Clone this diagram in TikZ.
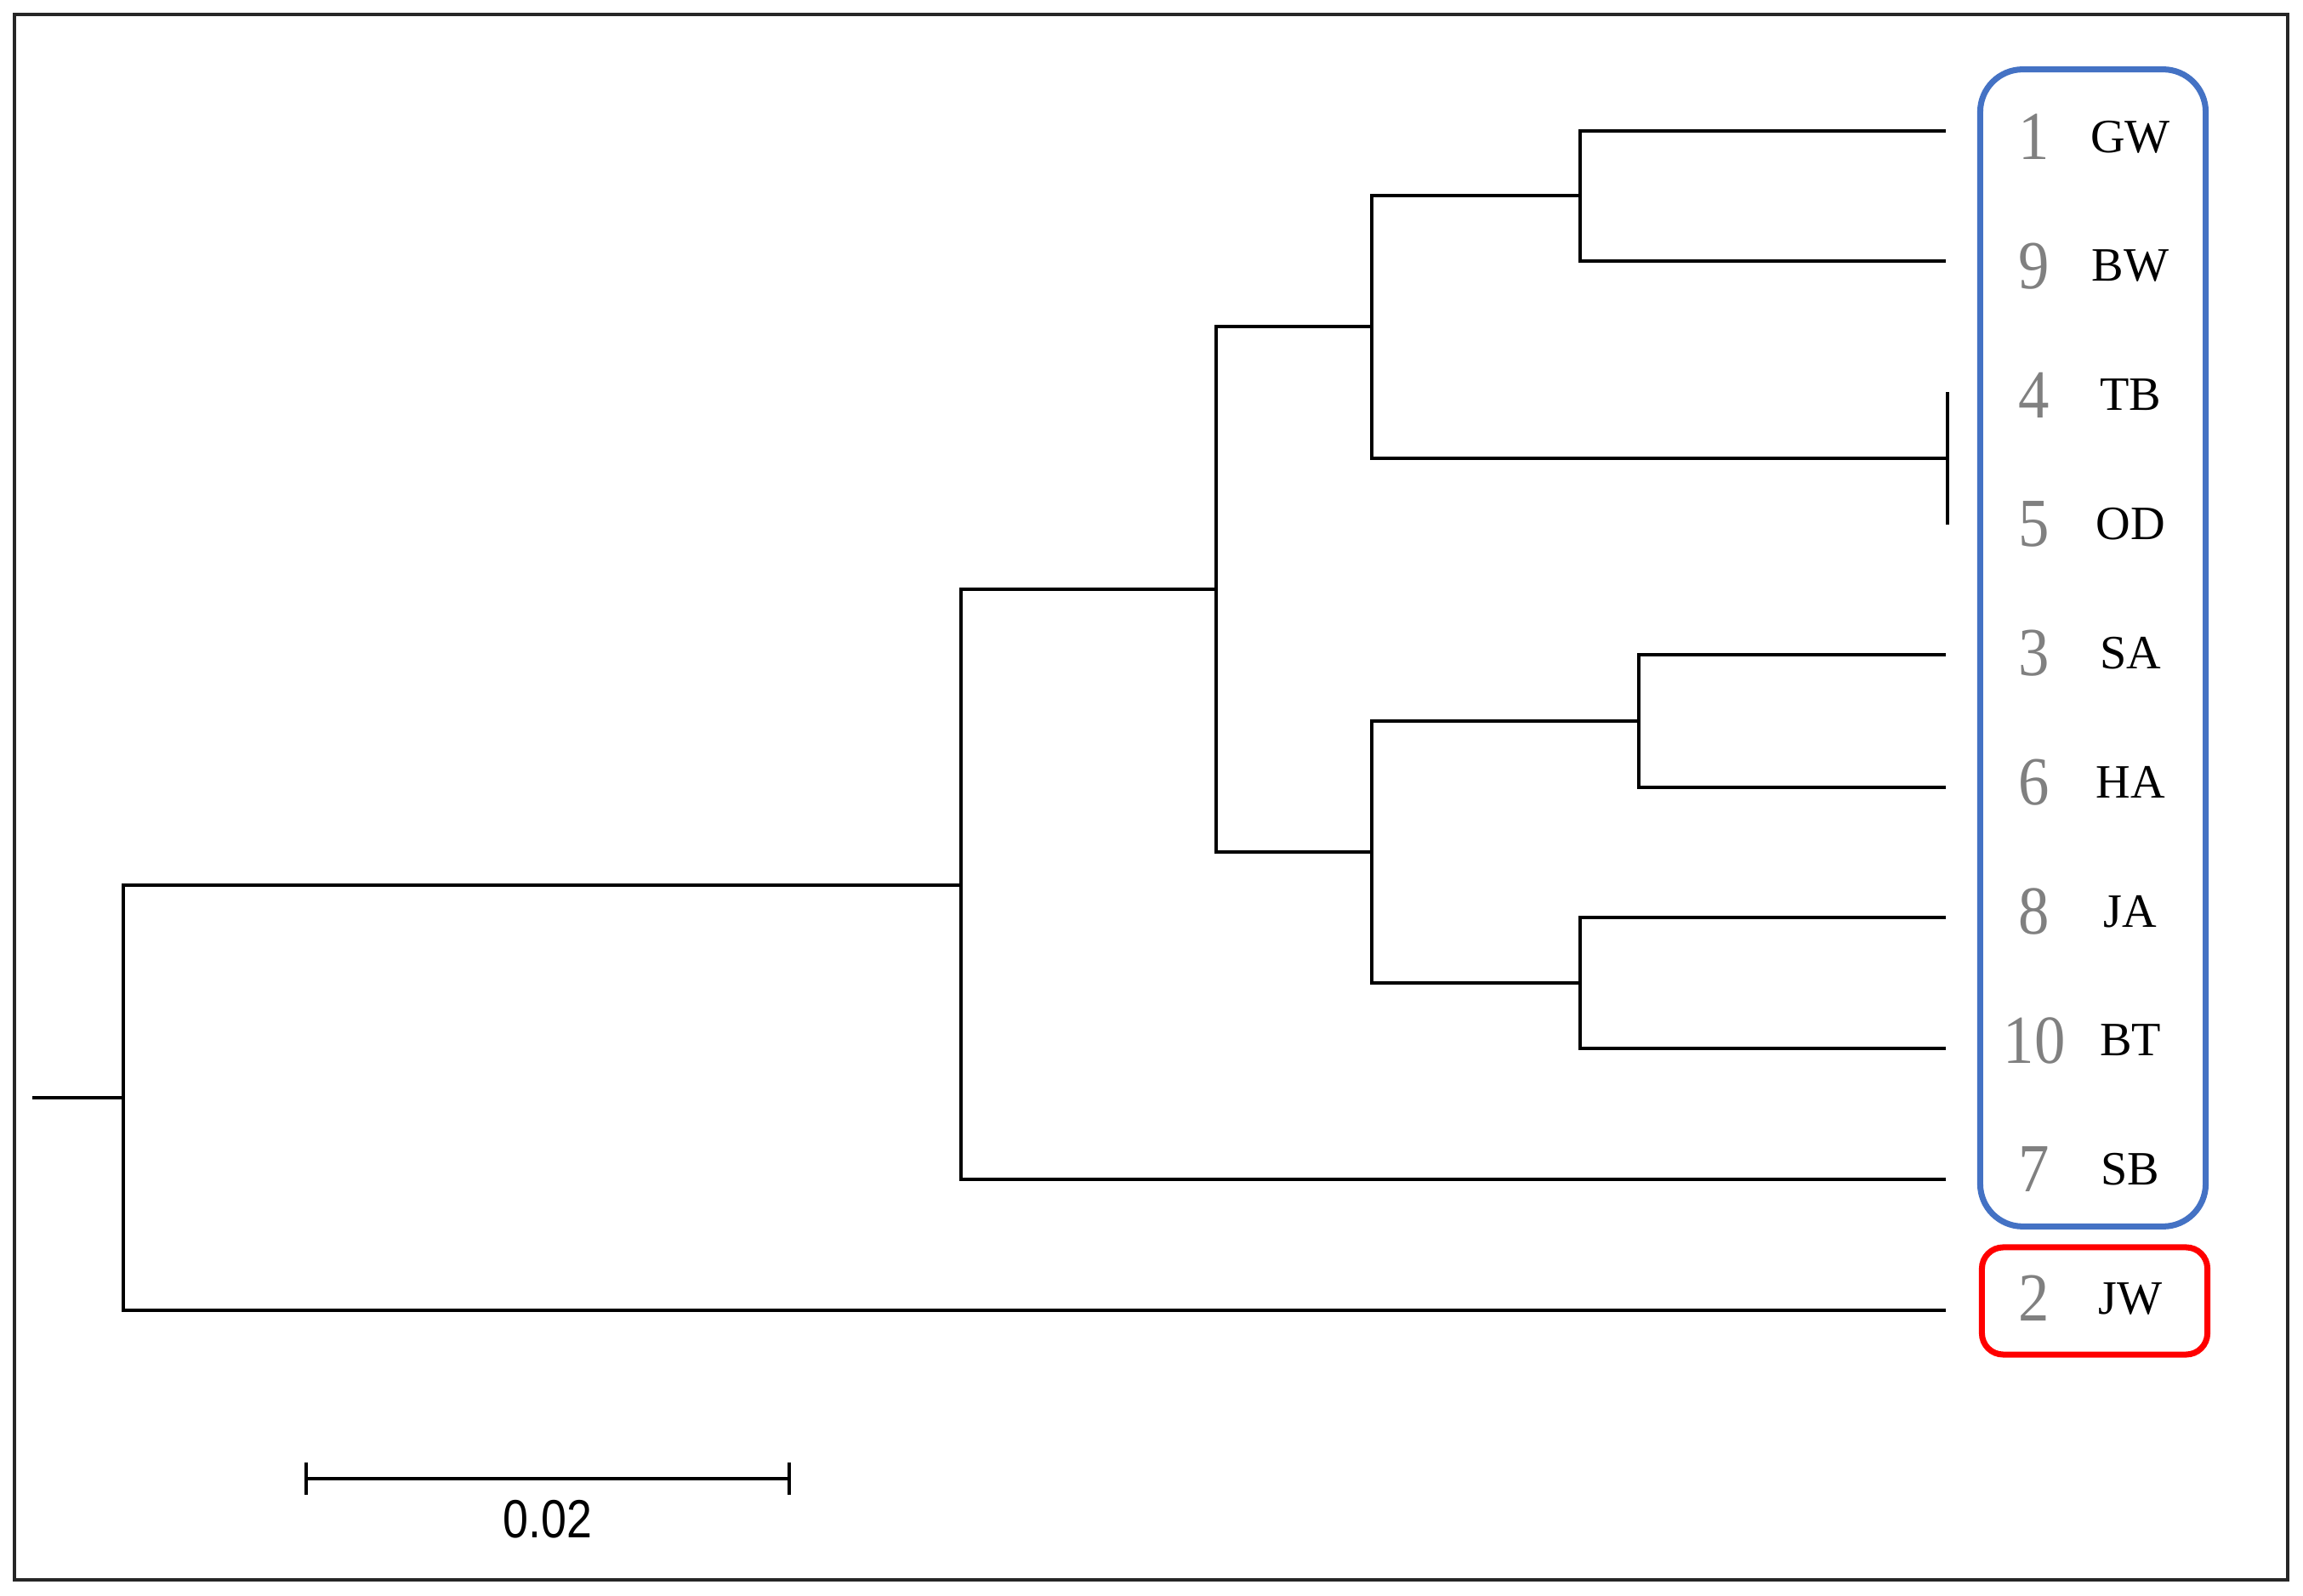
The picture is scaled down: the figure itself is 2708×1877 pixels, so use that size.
\documentclass[tikz,border=0pt]{standalone}
\usepackage{fontspec}
\setmainfont{Liberation Serif}
\newfontfamily\barfont{Liberation Sans}
\usetikzlibrary{positioning, calc}
\definecolor{cladeBlue}{HTML}{4472C4}
\definecolor{cladeRed}{HTML}{FF0000}
\definecolor{numGray}{HTML}{808080}

\begin{document}
\begin{tikzpicture}[x=0.01cm, y=-0.01cm,
      branch/.style={draw, line width=1.1pt},
      num/.style={text=numGray, inner sep=0pt, font=\fontsize{23}{23}\selectfont},
      taxon/.style={inner sep=0pt, font=\fontsize{16}{16}\selectfont},
      clade/.style={draw, line width=2pt, inner sep=0pt, minimum width=2.65cm}]
      \useasboundingbox (0,0) rectangle (2708,1877);
      \draw[line width=0.9pt, black!85] (17,17) rectangle (2690,1858);
      % internal nodes
      \coordinate (r0) at (38,1291);
      \coordinate (r) at (145,1291);
      \coordinate (a) at (1130,1041);
      \coordinate (b) at (1430,693);
      \coordinate (c) at (1613,384);
      \coordinate (d) at (1858,230);
      \coordinate (h) at (2290,539);
      \coordinate (e) at (1613,1002);
      \coordinate (f) at (1927,848);
      \coordinate (g) at (1858,1156);
      % leaves
      \coordinate (l1) at (2288,154);
      \coordinate (l9) at (2288,307);
      \coordinate (l4) at (2290,461);
      \coordinate (l5) at (2290,617);
      \coordinate (l3) at (2288,770);
      \coordinate (l6) at (2288,926);
      \coordinate (l8) at (2288,1079);
      \coordinate (l10) at (2288,1233);
      \coordinate (l7) at (2288,1387);
      \coordinate (l2) at (2288,1541);
      \draw[branch] (r0)--(r);
      \draw[branch] (r) |- (a); \draw[branch] (r) |- (l2);
      \draw[branch] (a) |- (b); \draw[branch] (a) |- (l7);
      \draw[branch] (b) |- (c); \draw[branch] (b) |- (e);
      \draw[branch] (c) |- (d); \draw[branch] (c) |- (h);
      \draw[branch] (d) |- (l1); \draw[branch] (d) |- (l9);
      \draw[branch] (h) -- (l4); \draw[branch] (h) -- (l5);
      \draw[branch] (e) |- (f); \draw[branch] (e) |- (g);
      \draw[branch] (f) |- (l3); \draw[branch] (f) |- (l6);
      \draw[branch] (g) |- (l8); \draw[branch] (g) |- (l10);
      % labels
      \foreach \n/\t [count=\k] in {1/GW, 9/BW, 4/TB, 5/OD, 3/SA, 6/HA, 8/JA, 10/BT, 7/SB, 2/JW} {
        \node[num] (n\n) at (2392, 161+151.8*\k-151.8) {\scalebox{0.9}[1]{\n}};
        \node[taxon] (t\n) at (2505, 161+151.8*\k-151.8) {\t};
      }
      \node[clade, draw=cladeBlue, rounded corners=0.5cm, minimum height=13.6cm] (blue) at (2461,762) {};
      \node[clade, draw=cladeRed, rounded corners=0.25cm, minimum height=1.26cm] (red) at (2463,1530) {};
      % scale bar
      \coordinate (s1) at (360,1739);
      \coordinate (s2) at (928,1739);
      \draw[branch] (s1) -- (s2);
      \draw[branch] ([yshift=0.19cm]s1) -- ([yshift=-0.19cm]s1);
      \draw[branch] ([yshift=0.19cm]s2) -- ([yshift=-0.19cm]s2);
      \node[inner sep=0pt, font=\barfont\fontsize{18}{18}\selectfont, below=0.25cm of $(s1)!0.5!(s2)$] (sl) {\scalebox{0.85}[1]{0.02}};
    \end{tikzpicture}
\end{document}
